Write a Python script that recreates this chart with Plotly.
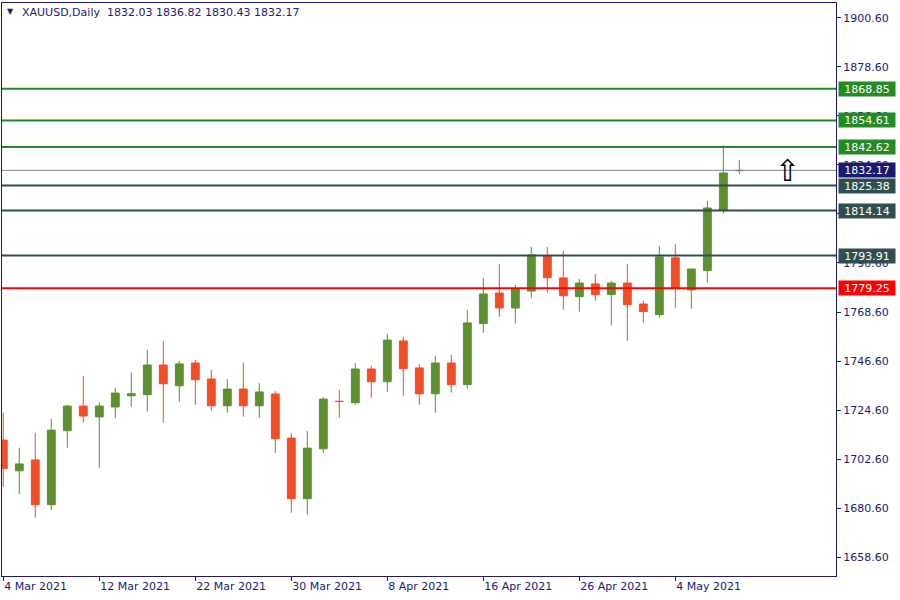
import plotly.graph_objects as go

dates = ["2021-03-04", "2021-03-05", "2021-03-08", "2021-03-09", "2021-03-10", "2021-03-11", "2021-03-12",
         "2021-03-15", "2021-03-16", "2021-03-17", "2021-03-18", "2021-03-19",
         "2021-03-22", "2021-03-23", "2021-03-24", "2021-03-25", "2021-03-26",
         "2021-03-29", "2021-03-30", "2021-03-31", "2021-04-01",
         "2021-04-05", "2021-04-06", "2021-04-07", "2021-04-08", "2021-04-09",
         "2021-04-12", "2021-04-13", "2021-04-14", "2021-04-15", "2021-04-16",
         "2021-04-19", "2021-04-20", "2021-04-21", "2021-04-22", "2021-04-23",
         "2021-04-26", "2021-04-27", "2021-04-28", "2021-04-29", "2021-04-30",
         "2021-05-03", "2021-05-04", "2021-05-05", "2021-05-06", "2021-05-07", "2021-05-10"]

opens = [1711.1, 1697.3, 1702.2, 1682.1, 1715.3, 1726.4, 1721.5, 1726.0, 1731.0, 1731.5,
         1744.8, 1735.5, 1745.7, 1738.5, 1726.5, 1734.0, 1726.5, 1731.8, 1712.0, 1684.8,
         1707.2, 1728.5, 1727.9, 1743.0, 1737.3, 1755.6, 1743.5, 1731.9, 1745.7, 1736.0,
         1763.4, 1777.1, 1770.4, 1778.0, 1793.8, 1783.9, 1775.5, 1781.2, 1776.4, 1781.6,
         1772.2, 1767.4, 1792.9, 1778.5, 1787.2, 1814.4, 1832.03]
highs = [1723.4, 1707.7, 1714.4, 1720.6, 1726.9, 1739.9, 1727.9, 1734.6, 1741.4, 1751.5,
         1755.6, 1746.6, 1747.1, 1742.6, 1738.5, 1745.9, 1736.7, 1733.1, 1714.3, 1715.2,
         1730.4, 1733.6, 1745.7, 1744.4, 1758.7, 1757.4, 1745.3, 1748.9, 1749.3, 1769.5,
         1783.9, 1790.2, 1780.7, 1797.8, 1797.8, 1796.0, 1783.4, 1785.7, 1782.5, 1790.2,
         1773.6, 1798.2, 1799.1, 1788.0, 1818.5, 1843.6, 1836.82]
lows = [1690.2, 1686.9, 1676.3, 1679.7, 1707.7, 1718.9, 1698.7, 1721.0, 1726.0, 1723.9,
        1718.9, 1728.3, 1727.0, 1724.3, 1723.4, 1721.6, 1721.2, 1705.4, 1678.5, 1677.6,
        1705.4, 1721.2, 1727.0, 1730.1, 1732.8, 1731.0, 1727.0, 1723.4, 1732.4, 1734.2,
        1759.3, 1766.5, 1763.4, 1775.0, 1777.3, 1769.6, 1768.8, 1773.7, 1762.5, 1755.7,
        1763.8, 1766.1, 1770.5, 1770.1, 1781.8, 1812.8, 1830.43]
closes = [1698.3, 1700.4, 1682.1, 1715.6, 1726.4, 1721.9, 1726.4, 1732.2, 1731.9, 1744.8,
          1736.4, 1745.3, 1738.2, 1726.5, 1734.0, 1726.5, 1732.7, 1711.7, 1684.8, 1707.5,
          1729.5, 1728.45, 1743.0, 1737.3, 1756.0, 1743.2, 1731.9, 1745.7, 1736.0, 1763.7,
          1776.7, 1770.4, 1778.9, 1794.2, 1784.0, 1775.9, 1781.6, 1776.4, 1781.6, 1771.9,
          1768.8, 1793.3, 1779.1, 1787.9, 1815.3, 1831.0, 1832.17]

tick_dates = ["2021-03-04", "2021-03-12", "2021-03-22", "2021-03-30", "2021-04-08",
              "2021-04-16", "2021-04-26", "2021-05-04"]
tick_labels = ["4 Mar 2021", "12 Mar 2021", "22 Mar 2021", "30 Mar 2021", "8 Apr 2021",
               "16 Apr 2021", "26 Apr 2021", "4 May 2021"]

price_ticks = [1658.60, 1680.60, 1702.60, 1724.60, 1746.60, 1768.60, 1790.60,
               1812.60, 1834.60, 1856.60, 1878.60, 1900.60]

level_values = [1868.85, 1854.61, 1842.62, 1825.38, 1814.14, 1793.91, 1779.25]
level_colors = ["#228B22", "#228B22", "#228B22", "#2F4F4F", "#2F4F4F", "#2F4F4F", "#FF0000"]
current_price = 1832.17
header = "XAUUSD,Daily  1832.03 1836.82 1830.43 1832.17"

UP = "#5B922F"
DOWN = "#F34D26"
NAVY = "#1a1a73"
FONT = "DejaVu Sans"

idx = list(range(len(dates)))

fig = go.Figure()
fig.add_trace(go.Candlestick(
    x=idx, open=opens, high=highs, low=lows, close=closes,
    increasing=dict(line=dict(color=UP, width=1), fillcolor=UP),
    decreasing=dict(line=dict(color=DOWN, width=1), fillcolor=DOWN),
    hoverinfo="skip", showlegend=False,
))

shapes = []
for v, c in zip(level_values, level_colors):
    shapes.append(dict(type="line", xref="paper", x0=0, x1=1, yref="y", y0=v, y1=v,
                       line=dict(color=c, width=2), layer="above"))
shapes.append(dict(type="line", xref="paper", x0=0, x1=1, yref="y", y0=current_price, y1=current_price,
                   line=dict(color="#778899", width=1), layer="above"))

annotations = []
for v, c in zip(level_values, level_colors):
    annotations.append(dict(xref="paper", x=1.002, xanchor="left", yref="y", y=v, yanchor="middle",
                            text=f"{v:.2f}", showarrow=False, bgcolor=c, width=56, height=14,
                            borderpad=0, font=dict(family=FONT, size=11, color="white")))
annotations.append(dict(xref="paper", x=1.002, xanchor="left", yref="y", y=current_price, yanchor="middle",
                        text=f"{current_price:.2f}", showarrow=False, bgcolor="#191970", width=56, height=14,
                        borderpad=0, font=dict(family=FONT, size=11, color="white")))
annotations.append(dict(xref="paper", x=0.0215, xanchor="left", yref="paper", y=0.984, yanchor="middle",
                        text=header, showarrow=False, font=dict(family=FONT, size=11, color=NAVY)))
annotations.append(dict(xref="paper", x=0.0105, xanchor="center", yref="paper", y=0.985, yanchor="middle",
                        text="▼", showarrow=False, font=dict(family=FONT, size=8, color=NAVY)))
annotations.append(dict(xref="x", x=49.0, xanchor="center", yref="y", y=current_price, yanchor="middle",
                        text="⇧", showarrow=False, font=dict(family=FONT, size=30, color="black")))

tickvals_x = [dates.index(d) for d in tick_dates]

fig.update_layout(
    width=900, height=600,
    margin=dict(l=2, r=64, t=3, b=24, autoexpand=False),
    paper_bgcolor="white", plot_bgcolor="white",
    showlegend=False, hovermode=False,
    shapes=shapes, annotations=annotations,
    xaxis=dict(range=[-0.08, 52.04], rangeslider=dict(visible=False), showgrid=False, zeroline=False,
               automargin=False,
               tickmode="array", tickvals=tickvals_x, ticktext=tick_labels,
               ticks="outside", ticklen=4, tickcolor=NAVY, ticklabelposition="outside right",
               showline=True, linecolor=NAVY, linewidth=1, mirror=True,
               tickfont=dict(family=FONT, size=11, color=NAVY)),
    yaxis=dict(range=[1650.1, 1907.3], side="right", showgrid=False, zeroline=False,
               automargin=False,
               tickmode="array", tickvals=price_ticks, ticktext=[f"{t:.2f}" for t in price_ticks],
               ticks="outside", ticklen=4, tickcolor=NAVY,
               showline=True, linecolor=NAVY, linewidth=1, mirror=True,
               tickfont=dict(family=FONT, size=11, color=NAVY)),
)

fig.write_html("out.html", config={"displayModeBar": False},
               post_script="document.body.style.margin='0px';document.body.style.overflow='hidden';")
